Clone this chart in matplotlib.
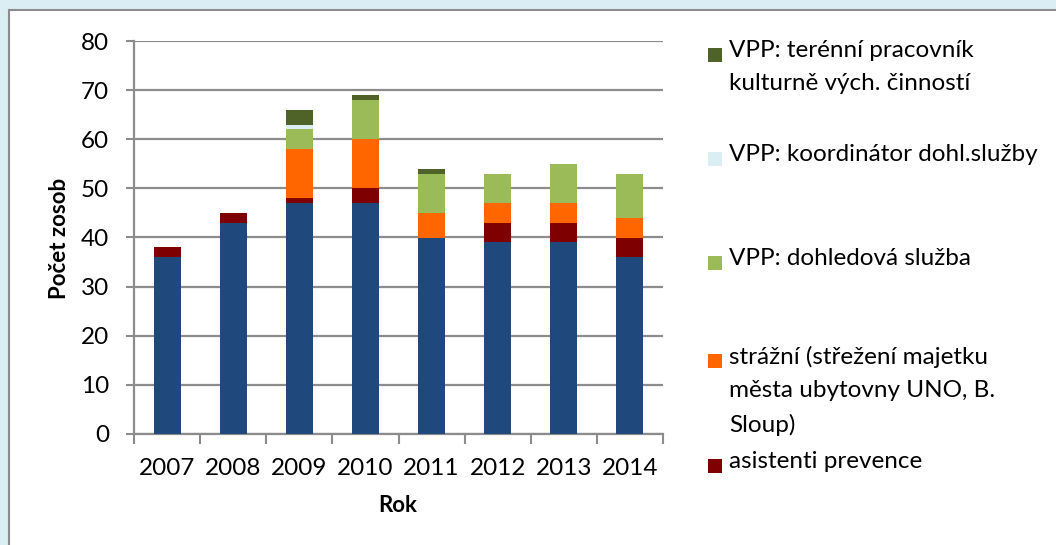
import matplotlib
matplotlib.use("Agg")
import matplotlib.pyplot as plt
from matplotlib.patches import Rectangle
import numpy as np

plt.rcParams['font.family'] = ['Lato', 'DejaVu Sans']

roky = ['2007', '2008', '2009', '2010', '2011', '2012', '2013', '2014']

# spodni serie (bez popisku v legende)
zaklad = [36, 43, 47, 47, 40, 39, 39, 36]
asistenti = [2, 2, 1, 3, 0, 4, 4, 4]
strazni = [0, 0, 10, 10, 5, 4, 4, 4]
dohled = [0, 0, 4, 8, 8, 6, 8, 9]
koordinator = [0, 0, 1, 0, 0, 0, 0, 0]
terenni = [0, 0, 3, 1, 1, 0, 0, 0]

serie = [zaklad, asistenti, strazni, dohled, koordinator, terenni]
barvy = ['#1F497D', '#7F0000', '#FF6600', '#9BBB59', '#DAEEF3', '#4F6228']
popisky = [None, 'asistenti prevence',
           'strážní (střežení majetku\nměsta ubytovny UNO, B.\nSloup)',
           'VPP: dohledová služba', 'VPP: koordinátor dohl.služby',
           'VPP: terénní pracovník\nkulturně vých. činností']

fig = plt.figure(figsize=(10.56, 5.45), dpi=100)
fig.patch.set_facecolor('#DAEEF3')
# bily panel
fig.patches.append(Rectangle((9/1056, -0.01), 1.0, 1.01 - 10/545, transform=fig.transFigure,
                             facecolor='white', edgecolor='#8C8C8C', linewidth=1.5, zorder=-1))

ax = fig.add_axes([134/1056, 1 - 434/545, (663 - 134)/1056, (434 - 41)/545])
ax.set_facecolor('none')
ax.set_zorder(2)

x = np.arange(len(roky))
dno = np.zeros(len(roky))
for hodnoty, barva in zip(serie, barvy):
    ax.bar(x, hodnoty, bottom=dno, width=0.41, color=barva, linewidth=0, zorder=3)
    dno += np.array(hodnoty)

ax.set_xlim(-0.5, len(roky) - 0.5)
ax.set_ylim(0, 80)
ax.set_yticks(range(0, 81, 10))
ax.set_xticks(x)
ax.set_xticklabels(roky, fontsize=17.5)
ax.set_xticks(np.arange(-0.5, len(roky), 1), minor=True)
ax.tick_params(axis='x', which='major', length=0, pad=17)
ax.tick_params(axis='x', which='minor', length=7, width=1.5, color='#8C8C8C')
ax.tick_params(axis='y', labelsize=17.5, length=6, width=1.5, color='#8C8C8C', pad=12)
ax.grid(axis='y', color='#8C8C8C', linewidth=1.6, zorder=0)
for s in ['top', 'right']:
    ax.spines[s].set_visible(False)
for s in ['left', 'bottom']:
    ax.spines[s].set_color('#8C8C8C')
    ax.spines[s].set_linewidth(1.6)

ax.set_ylabel('Počet zosob', fontsize=16, fontweight='bold', va='center')
ax.yaxis.set_label_coords(60/1056, 1 - 238/545, transform=fig.transFigure)
ax.set_xlabel('Rok', fontsize=16, fontweight='bold', va='center')
ax.xaxis.set_label_coords(398/1056, 1 - 505/545, transform=fig.transFigure)

# legenda rozlozena jako v Excelu
pozice = {1: 466, 2: 361, 3: 263, 4: 159, 5: 55}
for i in range(1, len(serie)):
    yt = pozice[i]
    fig.patches.append(Rectangle((708/1056, 1 - (yt + 7)/545), 14/1056, 14/545,
                                 transform=fig.transFigure, facecolor=barvy[i],
                                 edgecolor='none'))
    fig.text(729/1056, 1 - (yt - 15)/545, popisky[i], fontsize=17.5, va='top',
             ha='left', linespacing=1.72, transform=fig.transFigure)

fig.savefig('out.png', dpi=100, facecolor=fig.get_facecolor())
